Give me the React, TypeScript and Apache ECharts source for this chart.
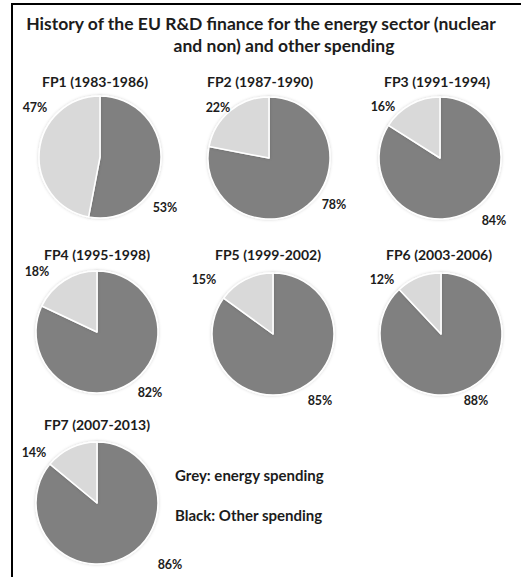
import React, { useEffect, useRef } from "react";
import * as echarts from "echarts";

// ---- data ----
const programmes = [
  "FP1 (1983-1986)",
  "FP2 (1987-1990)",
  "FP3 (1991-1994)",
  "FP4 (1995-1998)",
  "FP5 (1999-2002)",
  "FP6 (2003-2006)",
  "FP7 (2007-2013)",
];
const categories = ["Other spending", "Energy spending"];
const otherShare = [53, 78, 84, 82, 85, 88, 86];
const energyShare = [47, 22, 16, 18, 15, 12, 14];

const titleLines = [
  "History of the EU R&D finance for the energy sector (nuclear",
  "and non) and other spending",
];
const legendLines = ["Grey: energy spending", "Black: Other spending"];

// ---- layout (pixels) ----
const PIE_CENTERS: [number, number][] = [
  [100, 157],
  [269, 158],
  [440, 158],
  [97, 332],
  [273, 334],
  [441, 334],
  [97, 503],
];
const PIE_RADIUS = 61;
const SUBTITLE_POS: [number, number][] = [
  [95, 81],
  [260, 81],
  [437, 81],
  [97, 254],
  [268, 254],
  [439, 254],
  [97, 424],
];
// [other label, energy label]
const LABEL_POS: [number, number][][] = [
  [[165, 207], [35, 107]],
  [[334, 204], [218, 107]],
  [[494, 220], [383, 106]],
  [[150, 392], [37, 271]],
  [[320, 400], [204, 279]],
  [[476, 400], [382, 279]],
  [[170, 564], [34, 452]],
];

const FONT = "Lato, 'Open Sans', sans-serif";
const TEXT_COLOR = "#1c1c1c";
const DARK = "#808080";
const LIGHT = "#d9d9d9";

export default function App() {
  const ref = useRef<HTMLDivElement>(null);

  useEffect(() => {
    if (!ref.current) return;
    const chart = echarts.init(ref.current, undefined, { renderer: "svg" });

    const series = programmes.map((name, i) => ({
      type: "pie",
      name,
      center: PIE_CENTERS[i],
      radius: PIE_RADIUS,
      startAngle: 90,
      clockwise: true,
      silent: true,
      avoidLabelOverlap: false,
      data: [
        { name: categories[0], value: otherShare[i], itemStyle: { color: DARK } },
        { name: categories[1], value: energyShare[i], itemStyle: { color: LIGHT } },
      ],
      itemStyle: {
        borderColor: "#ffffff",
        borderWidth: 1.5,
        shadowBlur: 3,
        shadowColor: "rgba(0,0,0,0.18)",
      },
      label: {
        show: true,
        position: "outside",
        formatter: "{c}%",
        fontFamily: FONT,
        fontWeight: "bold",
        fontSize: 12.5,
        color: TEXT_COLOR,
        overflow: "none",
        width: 60,
      },
      labelLine: { show: false },
      labelLayout: (p: any) => {
        const pos = LABEL_POS[p.seriesIndex][p.dataIndex];
        return {
          x: pos[0],
          y: pos[1],
          align: "center",
          verticalAlign: "middle",
          hideOverlap: false,
          moveOverlap: null,
        };
      },
      emphasis: { disabled: true },
    }));

    const textEl = (text: string, x: number, y: number, size: number, align = "center") => ({
      type: "text",
      x,
      y,
      silent: true,
      style: {
        text,
        fill: TEXT_COLOR,
        fontFamily: FONT,
        fontWeight: "bold",
        fontSize: size,
        align,
        verticalAlign: "middle",
        textAlign: align,
        textVerticalAlign: "middle",
      },
    });

    const graphic: any[] = [
      { type: "line", silent: true, shape: { x1: 11, y1: 4, x2: 521, y2: 4 }, style: { stroke: "#000", lineWidth: 2 } },
      { type: "line", silent: true, shape: { x1: 12, y1: 3, x2: 12, y2: 577 }, style: { stroke: "#000", lineWidth: 2 } },
      textEl(titleLines[0], 261, 23, 17.5),
      textEl(titleLines[1], 284, 45, 17.5),
      ...programmes.map((p, i) => textEl(p, SUBTITLE_POS[i][0], SUBTITLE_POS[i][1], 14)),
      textEl(legendLines[0], 175, 475, 15, "left"),
      textEl(legendLines[1], 175, 515, 15, "left"),
    ];

    chart.setOption({
      animation: false,
      backgroundColor: "#ffffff",
      series,
      graphic,
    });

    return () => chart.dispose();
  }, []);

  return (
    <div
      ref={ref}
      style={{ position: "absolute", left: 0, top: 0, width: 530, height: 577 }}
    />
  );
}
